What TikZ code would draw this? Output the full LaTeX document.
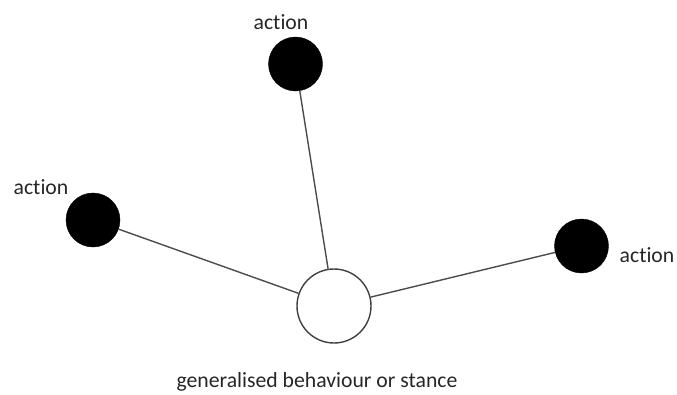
\documentclass[tikz,border=0pt]{standalone}
\usepackage{fontspec}
\setmainfont{Carlito}[Ligatures={NoCommon}]
\begin{document}
\begin{tikzpicture}[x=1pt,y=-1pt,
  act/.style={circle,fill=black,draw=black,minimum size=54pt,inner sep=0pt},
  hub/.style={circle,fill=white,draw=black!75,line width=1.4pt,minimum size=74pt,inner sep=0pt},
  lbl/.style={text=black!85,font=\fontsize{21.7}{26}\selectfont,inner sep=0pt},
  conn/.style={draw=black!70,line width=1.4pt}]
\useasboundingbox (0,0) rectangle (677,394);
\node[hub] (c) at (334,306) {};
\node[act] (t) at (295.5,64) {};
\node[act] (l) at (93,220) {};
\node[act] (r) at (581.5,246) {};
\node[lbl] (tl) at (281,22) {action};
\node[lbl] (ll) at (41,187) {action};
\node[lbl] (rl) at (647,255) {action};
\node[lbl] (cl) at (317,382) {generalised behaviour or stance};
\draw[conn] (t) -- (c);
\draw[conn] (l) -- (c);
\draw[conn] (r) -- (c);
\end{tikzpicture}
\end{document}
